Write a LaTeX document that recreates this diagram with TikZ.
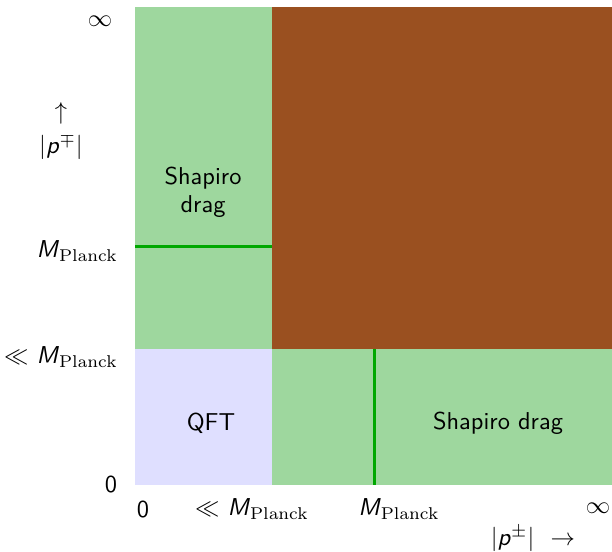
\documentclass[tikz,border=0pt]{standalone}
\usepackage{graphicx}
\usepackage{amssymb}
\definecolor{regiongreen}{HTML}{9ED79E}
\definecolor{regionbrown}{HTML}{9A5020}
\definecolor{regionlav}{HTML}{DFDFFF}
\definecolor{linegreen}{HTML}{00A800}
\newcommand{\sfp}{\textsf{\textit{p}}}
\newcommand{\MPl}{\textsf{\textit{M}}$_{\mathrm{Planck}}$}
\newcommand{\bigtxt}[1]{\scalebox{2.44}{\sffamily #1}}
\begin{document}
\begin{tikzpicture}[x=1pt,y=-1pt,
  lab/.style={inner sep=0pt},
  regtext/.style={inner sep=0pt},
  boundary/.style={linegreen, line width=3pt}]
\useasboundingbox (0,0) rectangle (612,551);
% regions
\fill[regiongreen] (135,7) rectangle (272,349);
\fill[regionbrown] (272,7) rectangle (612,349);
\fill[regionlav] (135,349) rectangle (272,485);
\fill[regiongreen] (272,349) rectangle (612,485);
% boundary lines
\coordinate (hl) at (135,246);
\coordinate (hr) at (272,246);
\coordinate (vt) at (374,349);
\coordinate (vb) at (374,485);
\draw[boundary] (hl) -- (hr);
\draw[boundary] (vt) -- (vb);
% region texts
\node[regtext] (sdl) at (203,193) {\bigtxt{\begin{tabular}{@{}c@{}}Shapiro\\[-0.6pt]drag\end{tabular}}};
\node[regtext] (qft) at (211,423) {\bigtxt{QFT}};
\node[regtext] (sdb) at (498,423) {\bigtxt{Shapiro drag}};
% vertical axis labels
\node[lab] (yinf) at (100,21) {\bigtxt{$\infty$}};
\node[lab] (yarr) at (61,113) {\bigtxt{$\uparrow$}};
\node[lab] (ypm) at (61,147) {\bigtxt{$|$\sfp$^{\mp}|$}};
\node[lab, anchor=east] (ympl) at (118,251) {\bigtxt{\MPl}};
\node[lab, anchor=east] (yll) at (118,357) {\bigtxt{$\ll$ \MPl}};
\node[lab] (yzero) at (111,484) {\bigtxt{0}};
% horizontal axis labels
\node[lab] (xzero) at (143,509) {\bigtxt{0}};
\node[lab] (xll) at (252,509) {\bigtxt{$\ll$ \MPl}};
\node[lab] (xmpl) at (399,509) {\bigtxt{\MPl}};
\node[lab] (xinf) at (598,508) {\bigtxt{$\infty$}};
\node[lab] (xpm) at (533,539) {\bigtxt{$|$\sfp$^{\pm}|$\ \ $\rightarrow$}};
\end{tikzpicture}
\end{document}
